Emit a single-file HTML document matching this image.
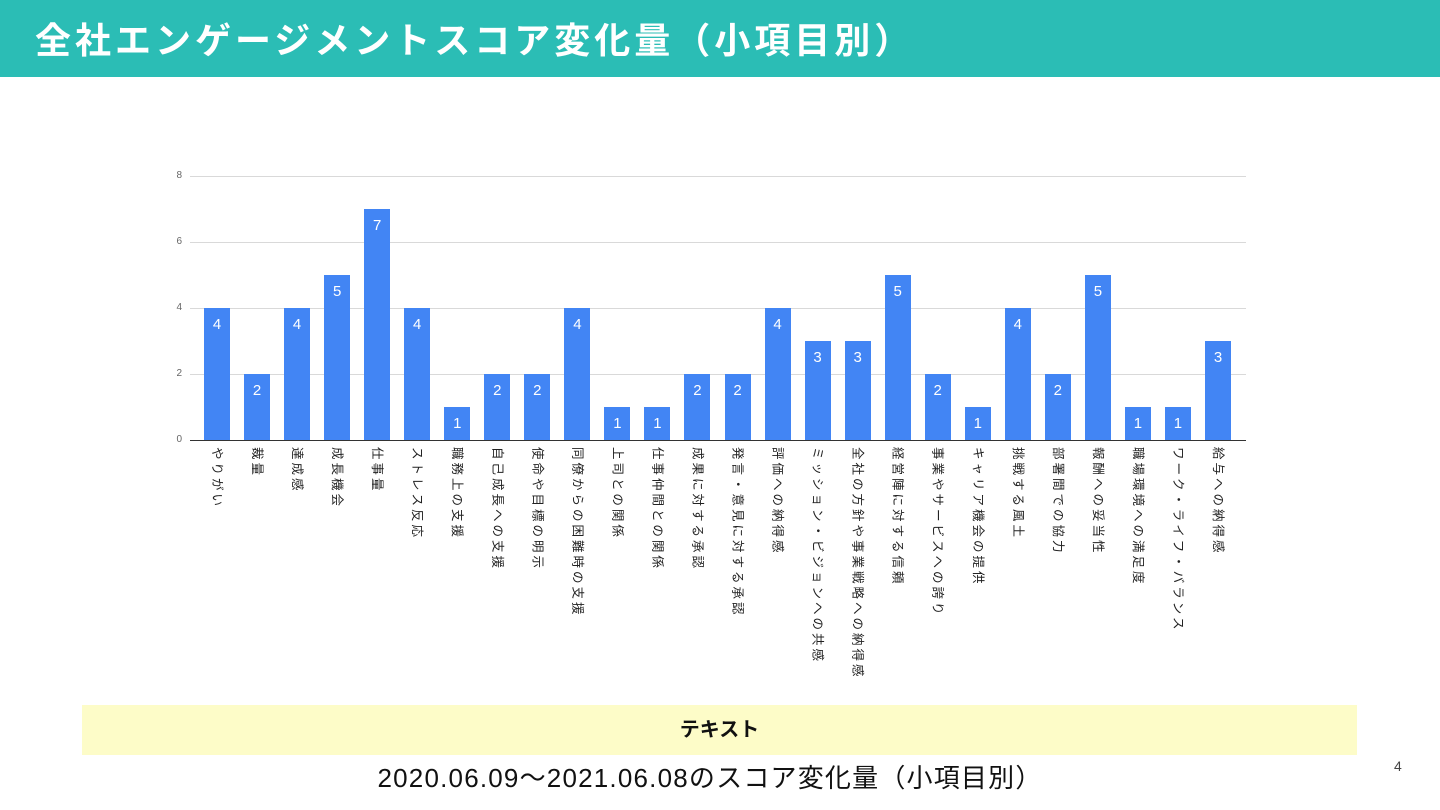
<!DOCTYPE html>
<html><head><meta charset="utf-8"><style>
body{margin:0;width:1440px;height:810px;position:relative;background:#fff;font-family:"Liberation Sans","Noto Sans CJK JP",sans-serif;overflow:hidden}
.hdr{position:absolute;left:0;top:0;width:1440px;height:77px;background:#2bbdb5}
.hdr div{position:absolute;left:35px;top:19px;color:#fff;font-size:36px;font-weight:bold;letter-spacing:4px;line-height:44px}
.grid{position:absolute;left:190px;width:1056px;height:1px;background:#d9d9d9}
.yl{position:absolute;left:170px;width:12px;text-align:right;font-size:10px;color:#666}
.bar{position:absolute;width:26px;background:#4285f4}
.bar span{position:absolute;top:8px;width:100%;text-align:center;color:#fff;font-size:15px}
.lab{position:absolute;top:447px;writing-mode:vertical-rl;text-orientation:sideways;font-size:12.5px;letter-spacing:3px;color:#222;width:14px;line-height:14px;white-space:nowrap}
.yb{position:absolute;left:82px;top:705px;width:1275px;height:50px;background:#fdfcc8;text-align:center;line-height:50px;font-size:20px;font-weight:bold;color:#111}
.sub{position:absolute;left:0;width:1420px;top:762px;text-align:center;font-size:26px;letter-spacing:1.2px;color:#111;line-height:32px}
.pg{position:absolute;left:1394px;top:758px;font-size:14px;color:#444}
</style></head><body>
<div class="hdr"><div>全社エンゲージメントスコア変化量（小項目別）</div></div>
<div id="c"></div>
<div class="yb">テキスト</div>
<div class="sub">2020.06.09～2021.06.08のスコア変化量（小項目別）</div>
<div class="pg">4</div>
<script>
var c=document.getElementById('c'),h='';
for(var i=0;i<=4;i++){var y=440-i*66;h+='<div class="grid" style="top:'+y+'px;'+(i==0?'background:#333':'')+'"></div><div class="yl" style="top:'+(y-6)+'px">'+(i*2)+'</div>';}
var v=[4,2,4,5,7,4,1,2,2,4,1,1,2,2,4,3,3,5,2,1,4,2,5,1,1,3];
var l=["やりがい","裁量","達成感","成長機会","仕事量","ストレス反応","職務上の支援","自己成長への支援","使命や目標の明示","同僚からの困難時の支援","上司との関係","仕事仲間との関係","成果に対する承認","発言・意見に対する承認","評価への納得感","ミッション・ビジョンへの共感","全社の方針や事業戦略への納得感","経営陣に対する信頼","事業やサービスへの誇り","キャリア機会の提供","挑戦する風土","部署間での協力","報酬への妥当性","職場環境への満足度","ワーク・ライフ・バランス","給与への納得感"];
for(var i=0;i<26;i++){var cx=217+i*40.04,hh=v[i]*33;
h+='<div class="bar" style="left:'+(cx-13)+'px;top:'+(440-hh)+'px;height:'+hh+'px"><span>'+v[i]+'</span></div>';
h+='<div class="lab" style="left:'+(cx-7)+'px">'+l[i]+'</div>';}
c.innerHTML=h;
</script>
</body></html>
